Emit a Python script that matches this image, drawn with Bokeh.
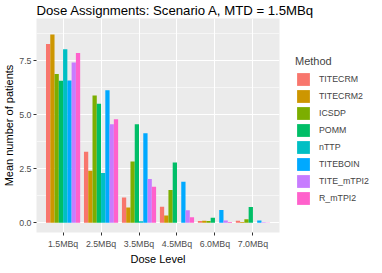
from bokeh.plotting import figure
from bokeh.models import (FactorRange, Range1d, FixedTicker, PrintfTickFormatter,
                          Legend, LegendItem, ColumnDataSource)
from bokeh.transform import dodge
from bokeh.embed import file_html
from bokeh.resources import INLINE

doses = ["1.5MBq", "2.5MBq", "3.5MBq", "4.5MBq", "6.0MBq", "7.0MBq"]
methods = ["TITECRM", "TITECRM2", "ICSDP", "POMM", "nTTP", "TITEBOIN", "TITE_mTPI2", "R_mTPI2"]
colors = ["#F8766D", "#CD9600", "#7CAE00", "#00BE67", "#00BFC4", "#00A9FF", "#C77CFF", "#FF61CC"]

titecrm = [8.27, 3.28, 1.17, 0.74, 0.08, 0.09]
titecrm2 = [8.71, 2.41, 0.71, 0.34, 0.09, 0.04]
icsdp = [6.88, 5.89, 2.83, 1.52, 0.08, 0.16]
pomm = [6.57, 5.51, 4.56, 2.79, 0.23, 0.73]
nttp = [8.03, 2.30, 0.07, 0.0, 0.0, 0.0]
titeboin = [6.58, 6.13, 4.14, 1.90, 0.59, 0.11]
tite_mtpi2 = [7.41, 4.56, 2.03, 0.58, 0.10, 0.02]
r_mtpi2 = [7.85, 4.79, 1.67, 0.26, 0.03, 0.01]
series = [titecrm, titecrm2, icsdp, pomm, nttp, titeboin, tite_mtpi2, r_mtpi2]

y_ticks = [0, 2.5, 5.0, 7.5]
y_minor = [1.25, 3.75, 6.25, 8.75]

FONT = "Liberation Sans"

p = figure(frame_width=243, frame_height=214, output_backend="svg", toolbar_location=None,
           x_range=FactorRange(factors=doses, range_padding=0.2, range_padding_units="absolute"),
           y_range=Range1d(-0.45, 9.45),
           min_border_left=0, min_border_right=91, min_border_top=0, min_border_bottom=0,
           title="Dose Assignments: Scenario A, MTD = 1.5MBq")

p.background_fill_color = "#EBEBEB"
p.border_fill_color = "white"
p.outline_line_color = None

p.title.text_font = FONT
p.title.text_font_size = "13.2px"
p.title.text_font_style = "normal"
p.title.text_color = "black"
p.title.standoff = 1
p.title.offset = 0

src = ColumnDataSource(dict(dose=doses, **{m: s for m, s in zip(methods, series)}))

n = len(methods)
bw = 0.9 / n
items = []
for i, (m, c) in enumerate(zip(methods, colors)):
    off = -0.45 + bw / 2 + i * bw
    r = p.vbar(x=dodge("dose", off, range=p.x_range), top=m, bottom=0, width=bw,
               source=src, fill_color=c, line_color=None)
    items.append(LegendItem(label=m, renderers=[r]))

# axes
p.xaxis.axis_label = "Dose Level"
p.yaxis.axis_label = "Mean number of patients"
for ax in (p.xaxis[0], p.yaxis[0]):
    ax.axis_line_color = None
    ax.major_tick_line_color = "#333333"
    ax.major_tick_out = 3
    ax.major_tick_in = 0
    ax.minor_tick_line_color = None
    ax.major_label_text_font = FONT
    ax.major_label_text_font_size = "8.8px"
    ax.major_label_text_color = "#4D4D4D"
    ax.axis_label_text_font = FONT
    ax.axis_label_text_font_size = "11px"
    ax.axis_label_text_font_style = "normal"
    ax.axis_label_text_color = "black"
    ax.major_label_standoff = 1
    ax.axis_label_standoff = 1
p.xaxis.major_label_standoff = 3

p.yaxis.ticker = FixedTicker(ticks=y_ticks, minor_ticks=y_minor)
p.yaxis.formatter = PrintfTickFormatter(format="%.1f")

p.xgrid.grid_line_color = "white"
p.xgrid.grid_line_width = 1.1
p.ygrid.grid_line_color = "white"
p.ygrid.grid_line_width = 1.1
p.ygrid.minor_grid_line_color = "white"
p.ygrid.minor_grid_line_width = 0.55

legend = Legend(items=items, location=(16, 26))
legend.title = "Method"
legend.title_text_font = FONT
legend.title_text_font_size = "11px"
legend.title_text_font_style = "normal"
legend.title_standoff = 4
legend.label_text_font = FONT
legend.label_text_font_size = "8.8px"
legend.label_standoff = 8
legend.label_height = 16
legend.glyph_width = 16
legend.glyph_height = 16
legend.spacing = 1
legend.padding = 0
legend.margin = 0
legend.border_line_color = None
legend.background_fill_alpha = 0
legend.inactive_fill_alpha = 0
p.add_layout(legend, "right")

open("out.html", "w").write(file_html(p, INLINE))
